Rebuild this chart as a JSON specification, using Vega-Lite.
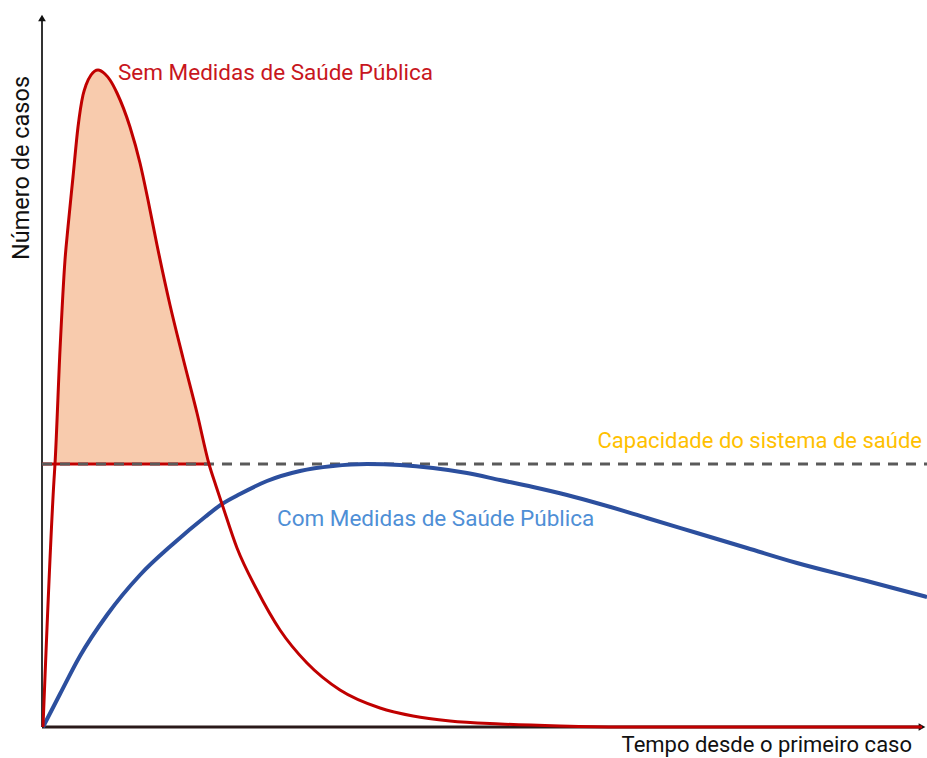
{
  "$schema": "https://vega.github.io/schema/vega-lite/v6.json",
  "width": 885,
  "height": 714,
  "autosize": "none",
  "padding": {"left": 42, "top": 13, "right": 0, "bottom": 31},
  "background": "white",
  "config": {"view": {"stroke": null}},
  "datasets": {
    "red": [
      {"t": 1, "casos": 0}, {"t": 12, "casos": 247}, {"t": 13, "casos": 263},
      {"t": 18, "casos": 377}, {"t": 23, "casos": 467}, {"t": 26, "casos": 500}, {"t": 31, "casos": 550},
      {"t": 36, "casos": 600}, {"t": 41, "casos": 632}, {"t": 44, "casos": 642}, {"t": 49, "casos": 652},
      {"t": 56, "casos": 657}, {"t": 63, "casos": 653}, {"t": 68, "casos": 647}, {"t": 75, "casos": 634},
      {"t": 88, "casos": 600}, {"t": 98, "casos": 564}, {"t": 106, "casos": 527}, {"t": 115, "casos": 482},
      {"t": 128, "casos": 422}, {"t": 141, "casos": 369}, {"t": 155, "casos": 314}, {"t": 167, "casos": 263},
      {"t": 174, "casos": 241}, {"t": 180, "casos": 223}, {"t": 195, "casos": 179}, {"t": 215, "casos": 137},
      {"t": 238, "casos": 97}, {"t": 265, "casos": 64}, {"t": 298, "casos": 37}, {"t": 338, "casos": 19},
      {"t": 371, "casos": 11}, {"t": 408, "casos": 6}, {"t": 458, "casos": 3}, {"t": 518, "casos": 1},
      {"t": 578, "casos": 0}, {"t": 880, "casos": 0}
    ],
    "blue": [
      {"t": 1, "casos": 0}, {"t": 18, "casos": 33}, {"t": 38, "casos": 71}, {"t": 65, "casos": 112},
      {"t": 98, "casos": 152}, {"t": 131, "casos": 183}, {"t": 163, "casos": 210}, {"t": 180, "casos": 223},
      {"t": 198, "casos": 233}, {"t": 225, "casos": 246}, {"t": 258, "casos": 256}, {"t": 291, "casos": 261},
      {"t": 325, "casos": 263}, {"t": 358, "casos": 262}, {"t": 391, "casos": 259}, {"t": 425, "casos": 254},
      {"t": 458, "casos": 247}, {"t": 491, "casos": 240}, {"t": 525, "casos": 232}, {"t": 558, "casos": 223},
      {"t": 605, "casos": 209}, {"t": 655, "casos": 194}, {"t": 705, "casos": 179}, {"t": 755, "casos": 164},
      {"t": 821, "casos": 147}, {"t": 885, "casos": 130}
    ],
    "capacidade": [{"t": 0, "t2": 885, "casos": 263}],
    "excesso": [{"t": 0, "t2": 167, "casos": 263}],
    "eixoX": [{"t": 0, "t2": 878, "casos": 0}],
    "eixoY": [{"t": 0, "casos": 0, "casos2": 708}],
    "setaX": [{"t": 880, "casos": 0}],
    "setaY": [{"t": 0, "casos": 709}]
  },
  "encoding": {
    "x": {"field": "t", "type": "quantitative", "scale": {"domain": [0, 885], "nice": false, "zero": false}, "axis": null},
    "y": {"field": "casos", "type": "quantitative", "scale": {"domain": [0, 714], "nice": false, "zero": false}, "axis": null}
  },
  "layer": [
    {
      "data": {"name": "red"},
      "transform": [{"filter": "datum.casos >= 263 && datum.t <= 170"}],
      "mark": {"type": "area", "color": "#f8cbad", "interpolate": "monotone", "opacity": 1},
      "encoding": {"y2": {"datum": 263}}
    },
    {
      "data": {"name": "eixoY"},
      "mark": {"type": "rule", "color": "#333333", "strokeWidth": 2},
      "encoding": {"y2": {"field": "casos2"}}
    },
    {
      "data": {"name": "eixoX"},
      "mark": {"type": "rule", "color": "#2a1a1a", "strokeWidth": 3},
      "encoding": {"x2": {"field": "t2"}}
    },
    {
      "data": {"name": "setaY"},
      "mark": {"type": "point", "shape": "triangle-up", "filled": true, "color": "#111111", "size": 60, "opacity": 1}
    },
    {
      "data": {"name": "setaX"},
      "mark": {"type": "point", "shape": "triangle-right", "filled": true, "color": "#111111", "size": 60, "opacity": 1}
    },
    {
      "data": {"name": "excesso"},
      "mark": {"type": "rule", "color": "#c00000", "strokeWidth": 3},
      "encoding": {"x2": {"field": "t2"}}
    },
    {
      "data": {"name": "capacidade"},
      "mark": {"type": "rule", "color": "#5a5a5a", "strokeWidth": 3, "strokeDash": [10, 8]},
      "encoding": {"x2": {"field": "t2"}}
    },
    {
      "data": {"name": "blue"},
      "mark": {"type": "line", "color": "#2c4f9e", "strokeWidth": 4, "interpolate": "monotone"}
    },
    {
      "data": {"name": "red"},
      "mark": {"type": "line", "color": "#c00000", "strokeWidth": 3, "interpolate": "monotone"}
    },
    {
      "data": {"values": [{"t": 76, "casos": 654, "texto": "Sem Medidas de Saúde Pública"}]},
      "mark": {"type": "text", "align": "left", "baseline": "middle", "font": "Roboto", "fontSize": 22.5, "color": "#c8161d"},
      "encoding": {"text": {"field": "texto"}}
    },
    {
      "data": {"values": [{"t": 880, "casos": 286, "texto": "Capacidade do sistema de saúde"}]},
      "mark": {"type": "text", "align": "right", "baseline": "middle", "font": "Roboto", "fontSize": 22, "color": "#ffc000"},
      "encoding": {"text": {"field": "texto"}}
    },
    {
      "data": {"values": [{"t": 235, "casos": 208, "texto": "Com Medidas de Saúde Pública"}]},
      "mark": {"type": "text", "align": "left", "baseline": "middle", "font": "Roboto", "fontSize": 22.5, "color": "#4f8fd6"},
      "encoding": {"text": {"field": "texto"}}
    },
    {
      "data": {"values": [{"t": 870, "casos": -18, "texto": "Tempo desde o primeiro caso"}]},
      "mark": {"type": "text", "align": "right", "baseline": "middle", "font": "Roboto", "fontSize": 22, "color": "#111111"},
      "encoding": {"text": {"field": "texto"}}
    },
    {
      "data": {"values": [{"t": -20, "casos": 559, "texto": "Número  de casos"}]},
      "mark": {"type": "text", "align": "center", "baseline": "middle", "angle": 270, "font": "Roboto", "fontSize": 23.5, "color": "#111111"},
      "encoding": {"text": {"field": "texto"}}
    }
  ]
}
